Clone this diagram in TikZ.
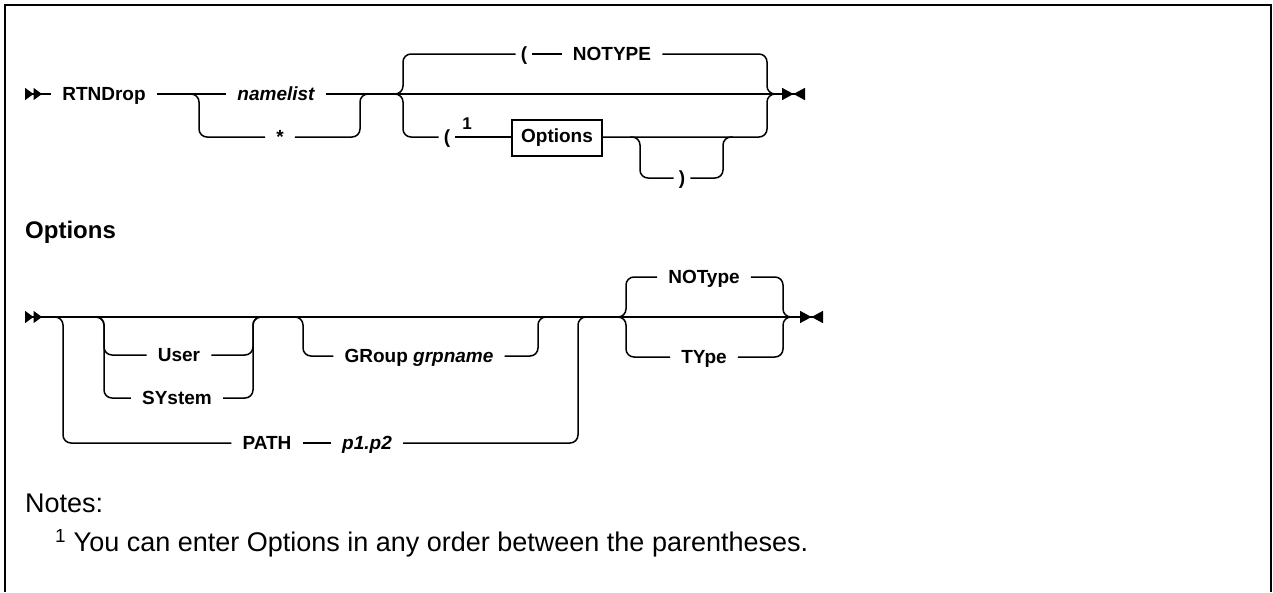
\documentclass[tikz,border=0pt]{standalone}
\usepackage{fontspec}
\setmainfont{Liberation Sans}
\usepackage{tikz}
\usetikzlibrary{arrows.meta, positioning, calc}
\tikzset{
    railhead/.tip={Triangle[reversed, length=8.5pt, width=12pt, sep=0pt]Triangle[reversed, length=8.5pt, width=12pt]},
    railend/.tip={Triangle[length=11.5pt, width=12pt, sep=0pt]Triangle[reversed, length=11.5pt, width=12pt]}
}

\begin{document}
\begin{tikzpicture}[
    x=1pt, y=-1pt,
    rail/.style={line width=1.5pt, rounded corners=8pt},
    kw/.style={font=\fontsize{19}{22}\selectfont\bfseries, inner xsep=11pt, inner ysep=0pt, text height=13pt, text depth=1pt},
    var/.style={kw, font=\fontsize{19}{22}\selectfont\bfseries\itshape},
    paren/.style={kw, inner xsep=5pt},
    ref/.style={draw, line width=1.2pt, minimum width=90pt, minimum height=36pt, inner sep=0pt, font=\fontsize{19}{22}\selectfont\bfseries},
    fnmark/.style={font=\fontsize{17}{19}\selectfont\bfseries, inner sep=0pt},
    note/.style={font=\fontsize{27}{31}\selectfont, inner sep=0pt, anchor=west}
]
\useasboundingbox (0,0) rectangle (1273,592);
\draw[line width=2pt] (5,592) -- (5,5) -- (1271,5) -- (1271,592);

% RTNDrop
\coordinate (s1) at (25,94);
\coordinate (e1) at (805,94);
\coordinate (j1) at (199,94);
\coordinate (j2) at (360,94);
\coordinate (b1) at (403,94);
\coordinate (b2) at (767,94);
\coordinate (c1) at (640,137);
\coordinate (c2) at (723,137);

\node[kw] (rtn) at (104,94) {RTNDrop};
\node[var] (nml) at (276,94) {namelist};
\node[kw] (star) at (280,137) {*};
\node[paren] (lpa) at (524,54) {(};
\node[kw] (ntp) at (612,54) {NOTYPE};
\node[paren] (lpb) at (447,137) {(};
\node[fnmark] (fn) at (467,124) {1};
\node[ref] (opt) at (557,138) {Options};
\node[paren] (rpa) at (682,178) {)};

\draw[rail, railhead-] (s1) -- (rtn);
\draw[rail] (rtn) -- (nml);
\draw[rail, -railend] (nml) -- (e1);
\draw[rail] ($(j1)+(-10,0)$) -- (j1) |- (star);
\draw[rail] (star) -| (j2) -- ++(10,0);
\draw[rail] ($(b1)+(-10,0)$) -- (b1) |- (lpa);
\draw[rail] (lpa) -- (ntp);
\draw[rail] (ntp) -| (b2) -- ++(10,0);
\draw[rail] ($(b1)+(-10,0)$) -- (b1) |- (lpb);
\draw[rail] (lpb) -- (lpb -| opt.west);
\draw[rail] (opt.east |- lpb) -| (b2) -- ++(10,0);
\draw[rail] ($(c1)+(-10,0)$) -- (c1) |- (rpa);
\draw[rail] (rpa) -| (c2) -- ++(10,0);

% Options fragment
\node[font=\fontsize{24}{28}\selectfont\bfseries, anchor=west, inner sep=0pt] (otitle) at (25,232) {Options};
\coordinate (s2) at (25,317);
\coordinate (e2) at (823,317);
\coordinate (p1) at (63,317);
\coordinate (p2) at (578,317);
\coordinate (u1) at (104,317);
\coordinate (u2) at (253,317);
\coordinate (g1) at (303,317);
\coordinate (g2) at (538,317);
\coordinate (t1) at (626,317);
\coordinate (t2) at (783,317);

\node[kw] (usr) at (179,355) {User};
\node[kw] (sys) at (177,398) {SYstem};
\node[kw] (grp) at (419,356) {GRoup \textit{grpname}};
\node[kw] (pth) at (267,443) {PATH};
\node[var] (pnm) at (367,443) {p1.p2};
\node[kw] (ntyp) at (704,277) {NOType};
\node[kw] (typ) at (704,357) {TYpe};

\draw[rail, railhead-railend] (s2) -- (e2);
\draw[rail] ($(p1)+(-10,0)$) -- (p1) |- (pth);
\draw[rail] (pth) -- (pnm);
\draw[rail] (pnm) -| (p2) -- ++(10,0);
\draw[rail] ($(u1)+(-10,0)$) -- (u1) |- (usr);
\draw[rail] (usr) -| (u2) -- ++(10,0);
\draw[rail] ($(u1)+(-10,0)$) -- (u1) |- (sys);
\draw[rail] (sys) -| (u2) -- ++(10,0);
\draw[rail] ($(g1)+(-10,0)$) -- (g1) |- (grp);
\draw[rail] (grp) -| (g2) -- ++(10,0);
\draw[rail] ($(t1)+(-10,0)$) -- (t1) |- (ntyp);
\draw[rail] (ntyp) -| (t2) -- ++(10,0);
\draw[rail] ($(t1)+(-10,0)$) -- (t1) |- (typ);
\draw[rail] (typ) -| (t2) -- ++(10,0);

\node[note] (nts) at (25,503) {Notes:};
\node[note] (fnt) at (55,543) {\textsuperscript{1} You can enter Options in any order between the parentheses.};
\end{tikzpicture}
\end{document}
